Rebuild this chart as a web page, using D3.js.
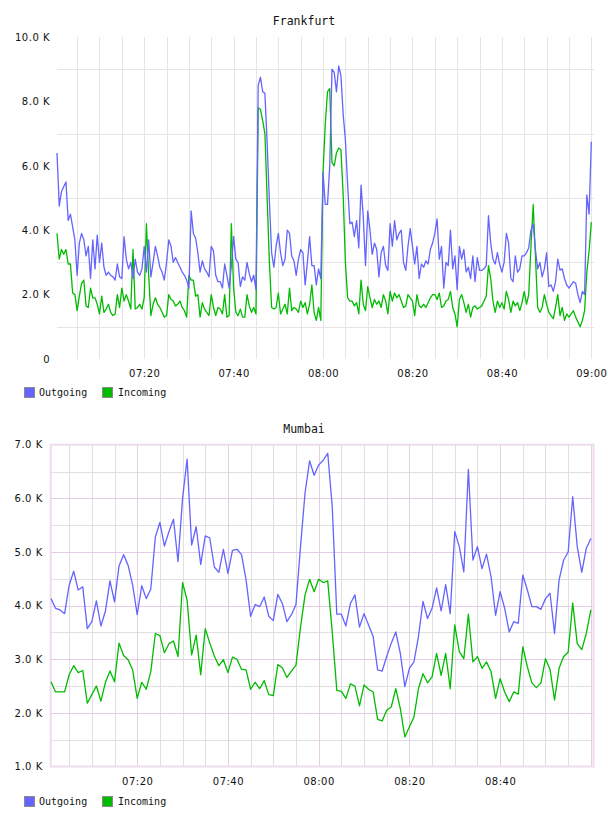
<!DOCTYPE html>
<html><head><meta charset="utf-8">
<script src="https://cdn.jsdelivr.net/npm/d3@7"></script>
<style>
body{margin:0;background:#fff;}
svg{display:block;}
</style></head><body>
<svg id="c" width="608" height="816"></svg>
<script>
// ---- Data (values in thousands) ----
const seriesNames = ["Outgoing", "Incoming"];

// Frankfurt: 30-second samples from 07:00:30 to 09:00:00
const frankfurtStart = "07:00:30";
const frankfurtStepSeconds = 30;
const frankfurtOutgoing = [
6.4,4.75,5.2,5.35,5.5,4.3,4.5,4.1,3.7,2.6,
3.6,3.9,3.7,3.2,3.5,2.5,3.7,2.8,3.85,3.0,
3.6,2.85,2.6,2.7,2.6,2.55,2.45,2.95,2.55,2.5,
3.8,3.1,2.8,3.0,2.5,3.1,2.7,2.6,2.8,3.5,
2.7,3.7,2.55,3.0,3.5,3.2,2.85,2.7,2.45,3.0,
3.7,3.5,3.0,3.15,3.0,2.85,2.7,2.6,2.45,2.2,
4.6,3.9,3.75,3.3,2.7,3.05,2.8,2.7,2.55,3.5,
3.35,2.6,2.4,2.4,2.2,2.95,2.6,2.2,2.9,3.8,
3.1,3.0,2.25,2.55,2.45,3.0,2.65,2.4,2.6,2.15,
8.5,8.75,8.3,8.25,6.7,4.9,3.3,2.85,3.5,3.9,
3.3,2.9,3.1,4.0,3.9,3.2,3.05,2.6,3.1,3.4,
3.3,2.3,3.0,3.8,2.9,2.9,2.3,2.8,2.5,5.8,
4.8,4.8,6.0,9.0,8.9,8.3,9.1,8.8,7.6,6.8,
5.4,4.2,4.25,3.8,4.3,3.45,5.4,4.4,2.9,4.6,
4.0,3.25,3.6,3.4,2.55,3.3,3.5,2.9,2.75,4.2,
3.5,4.3,3.7,3.9,4.0,3.0,2.75,3.5,4.05,3.5,
2.95,3.5,2.5,2.95,2.85,3.05,2.95,3.4,3.6,3.9,
4.35,3.1,3.5,2.2,3.0,2.9,4.0,2.8,3.2,2.15,
3.5,3.1,3.4,2.7,2.85,2.5,3.2,2.4,3.15,2.75,
2.75,2.8,2.9,4.45,3.6,3.1,2.95,3.3,2.95,2.7,
3.0,3.9,3.6,2.5,2.4,3.2,2.7,2.8,3.2,3.2,
3.3,3.45,4.0,4.2,3.4,2.8,3.0,2.55,2.8,3.3,
2.25,2.3,2.1,2.4,3.1,2.76,2.8,2.5,2.3,2.2,
2.3,2.4,2.35,2.0,1.75,2.1,2.0,5.1,4.5,6.75
];
const frankfurtIncoming = [
3.9,3.1,3.4,3.25,3.4,2.95,2.95,2.05,2.0,1.5,
1.95,2.35,2.45,1.65,1.6,2.2,1.9,1.9,1.7,1.4,
1.95,1.45,1.55,1.7,1.45,1.35,1.4,2.0,1.6,2.2,
1.8,2.0,1.8,1.55,3.4,1.55,1.6,1.7,1.55,1.9,
4.2,2.6,1.35,1.7,1.9,1.7,1.6,1.45,1.3,1.35,
2.0,1.85,1.8,1.65,1.7,1.8,1.6,1.5,1.3,2.6,
2.45,2.45,1.95,2.0,1.3,1.75,1.55,1.45,1.35,2.0,
1.6,1.35,1.6,1.55,1.4,2.0,1.3,1.35,4.2,2.2,
1.45,1.35,1.55,1.3,1.3,2.0,1.65,1.45,1.6,1.4,
7.8,7.75,7.4,7.0,5.0,3.0,1.6,1.55,1.6,2.05,
1.4,1.55,1.7,1.4,2.2,1.5,1.6,1.55,1.45,1.8,
1.6,1.75,1.4,1.7,2.3,1.45,1.2,1.6,1.2,5.8,
7.3,8.3,8.4,6.1,6.0,6.4,6.55,6.5,5.1,3.0,
1.9,1.8,1.8,1.65,1.75,1.4,2.45,1.7,1.5,2.25,
1.9,1.6,1.85,1.7,1.8,1.6,2.0,1.8,1.4,2.1,
1.8,2.05,1.9,2.0,1.8,1.6,1.65,2.0,1.9,1.8,
1.35,2.0,1.65,1.6,1.7,1.6,1.75,1.9,2.0,2.0,
1.85,2.05,1.6,1.65,1.8,1.85,2.1,1.6,1.4,1.0,
1.85,2.0,1.75,1.45,1.7,1.3,1.6,1.65,1.55,1.6,
1.65,1.8,1.95,2.9,2.5,1.8,1.45,1.8,1.6,1.75,
1.55,2.1,1.85,1.45,1.8,1.65,1.75,1.5,1.75,2.1,
1.7,2.0,3.5,4.8,3.2,1.6,1.45,1.6,2.0,1.7,
1.45,1.35,1.25,1.6,2.0,1.35,1.6,1.2,1.4,1.3,
1.4,1.5,1.3,1.15,1.0,1.2,1.5,2.7,3.35,4.25
];

// Mumbai: 1-minute samples from 07:01 to 09:00
const mumbaiStart = "07:01:00";
const mumbaiStepSeconds = 60;
const mumbaiOutgoing = [
4.13,3.95,3.92,3.85,4.38,4.64,4.29,4.35,3.57,3.7,
4.09,3.62,3.9,4.46,4.07,4.74,4.95,4.75,4.38,3.83,
4.37,4.13,4.31,5.28,5.55,5.11,5.38,5.61,4.82,6.0,
6.73,5.13,5.47,4.77,5.3,5.26,4.72,4.62,5.05,4.6,
5.03,5.05,4.95,4.48,3.8,4.02,3.98,4.16,3.8,3.72,
4.21,4.04,3.7,3.83,4.02,5.1,6.1,6.7,6.43,6.62,
6.71,6.84,5.84,3.84,3.84,3.62,4.04,4.2,3.6,3.85,
3.64,3.43,2.8,2.78,3.05,3.3,3.51,3.11,2.49,2.83,
2.95,3.42,4.08,3.76,3.95,4.33,3.9,4.39,3.85,5.38,
5.1,4.63,6.54,4.85,5.1,4.69,4.96,4.54,3.82,4.26,
3.95,3.51,3.7,3.67,4.57,4.29,3.98,3.98,3.93,4.13,
4.23,3.48,4.48,4.85,5.0,6.03,5.1,4.62,5.07,5.25
];
const mumbaiIncoming = [
2.58,2.39,2.39,2.39,2.71,2.88,2.75,2.79,2.18,2.34,
2.5,2.22,2.57,2.78,2.58,3.3,3.07,2.99,2.8,2.27,
2.57,2.44,2.77,3.48,3.44,3.12,3.29,3.34,3.05,4.43,
4.1,3.08,3.45,2.71,3.57,3.3,3.06,2.88,2.99,2.75,
3.04,3.0,2.81,2.8,2.44,2.57,2.45,2.6,2.34,2.32,
2.9,2.84,2.66,2.78,2.89,3.6,4.2,4.49,4.26,4.49,
4.43,4.46,3.5,2.42,2.4,2.27,2.54,2.5,2.13,2.52,
2.44,2.39,1.88,1.85,2.05,2.11,2.45,2.08,1.55,1.74,
1.92,2.45,2.73,2.56,2.67,3.11,2.7,3.11,2.45,3.64,
3.14,3.01,3.84,2.95,3.05,2.83,2.95,2.77,2.27,2.64,
2.39,2.21,2.39,2.35,3.23,2.86,2.56,2.47,2.56,3.01,
2.81,2.24,2.83,3.05,3.13,4.05,3.29,3.18,3.48,3.92
];

const frankfurtYTicks = [0, 2, 4, 6, 8, 10];
const frankfurtYGrid = [1, 3, 5, 7, 9];
const frankfurtXTicks = ["07:20", "07:40", "08:00", "08:20", "08:40", "09:00"];
const mumbaiYTicks = [1, 2, 3, 4, 5, 6, 7];
const mumbaiXTicks = ["07:20", "07:40", "08:00", "08:20", "08:40"];

// ---- Helpers ----
const parseT = s => { const [h, m, sec] = s.split(":").map(Number); return new Date(2020, 0, 1, h, m, sec || 0); };
const times = (start, step, n) => d3.range(n).map(i => new Date(parseT(start).getTime() + i * step * 1000));
const fmtK = d => d === 0 ? "0" : d3.format(".1f")(d) + " K";
const colors = { Outgoing: "#6464ff", Incoming: "#00bb00" };

const svg = d3.select("#c");
const FONT_MONO = "'DejaVu Sans Mono', monospace";
const FONT_SANS = "'DejaVu Sans', sans-serif";

function drawLegend(y) {
  const g = svg.append("g").attr("transform", `translate(0,${y})`);
  const pos = [{ x: 24, tx: 39 }, { x: 102, tx: 118 }];
  seriesNames.forEach((name, i) => {
    g.append("rect").attr("x", pos[i].x + 0.5).attr("y", 0.5).attr("width", 10).attr("height", 10)
      .attr("fill", colors[name]).attr("stroke", "#8a8a8a").attr("stroke-width", 1);
    g.append("text").attr("x", pos[i].tx).attr("y", 9).attr("font-family", FONT_MONO)
      .attr("font-size", "10px").attr("fill", "#111").text(name);
  });
}

function drawTitle(text, y) {
  svg.append("text").attr("x", 304).attr("y", y).attr("text-anchor", "middle")
    .attr("font-family", FONT_MONO).attr("font-size", "11.5px").attr("fill", "#111").text(text);
}

function styleAxis(g) {
  g.select(".domain").remove();
  g.selectAll(".tick line").remove();
  g.selectAll("text").attr("font-family", FONT_SANS).attr("font-size", "10px")
    .attr("letter-spacing", "0.5px").attr("fill", "#111");
}

function drawLines(g, x, y, t, out, inc) {
  const line = d3.line().x((d, i) => x(t[i])).y(d => y(d));
  g.append("path").datum(inc).attr("d", line).attr("fill", "none")
    .attr("stroke", colors.Incoming).attr("stroke-width", 1.3).attr("stroke-linejoin", "round");
  g.append("path").datum(out).attr("d", line).attr("fill", "none")
    .attr("stroke", colors.Outgoing).attr("stroke-width", 1.3).attr("stroke-linejoin", "round");
}

// ---- Frankfurt ----
(function () {
  const L = 57, R = 594, T = 37, B = 359;
  const t = times(frankfurtStart, frankfurtStepSeconds, frankfurtOutgoing.length);
  const x = d3.scaleTime().domain([parseT("07:00:30"), parseT("09:00:36")]).range([L, R]);
  const y = d3.scaleLinear().domain([0, 10]).range([B, T]);
  drawTitle("Frankfurt", 25);
  const grid = svg.append("g");
  const vTimes = d3.timeMinute.every(5).range(parseT("07:05:00"), parseT("09:00:01"));
  grid.selectAll(".v").data(vTimes).enter().append("line")
    .attr("x1", d => Math.round(x(d)) + 0.5).attr("x2", d => Math.round(x(d)) + 0.5)
    .attr("y1", T).attr("y2", B).attr("stroke", "#e5e5e5").attr("stroke-width", 1);
  grid.selectAll(".h").data(frankfurtYGrid).enter().append("line")
    .attr("x1", L).attr("x2", R).attr("y1", d => Math.round(y(d)) + 0.5).attr("y2", d => Math.round(y(d)) + 0.5)
    .attr("stroke", "#e5e5e5").attr("stroke-width", 1);
  const ya = svg.append("g").attr("transform", `translate(${L},0)`)
    .call(d3.axisLeft(y).tickValues(frankfurtYTicks).tickFormat(fmtK).tickSize(0).tickPadding(7));
  styleAxis(ya);
  const xa = svg.append("g").attr("transform", `translate(0,${B})`)
    .call(d3.axisBottom(x).tickValues(frankfurtXTicks.map(parseT)).tickFormat(d3.timeFormat("%H:%M")).tickSize(0));
  styleAxis(xa);
  xa.selectAll("text").attr("y", 14).attr("dy", "0.35em");
  drawLines(svg.append("g"), x, y, t, frankfurtOutgoing, frankfurtIncoming);
  drawLegend(387);
})();

// ---- Mumbai ----
(function () {
  const L = 50.7, R = 593.5, T = 444.7, B = 766.5;
  const t = times(mumbaiStart, mumbaiStepSeconds, mumbaiOutgoing.length);
  const x = d3.scaleTime().domain([parseT("07:00:56"), parseT("09:00:35")]).range([L, R]);
  const y = d3.scaleLinear().domain([1, 7]).range([B, T]);
  drawTitle("Mumbai", 433);
  const grid = svg.append("g");
  const vTimes = d3.timeMinute.every(5).range(parseT("07:05:00"), parseT("09:00:01"));
  const isMajorT = d => d.getMinutes() % 20 === 0;
  grid.selectAll(".vm").data(vTimes.filter(d => !isMajorT(d))).enter().append("line")
    .attr("x1", d => Math.round(x(d)) + 0.5).attr("x2", d => Math.round(x(d)) + 0.5)
    .attr("y1", T).attr("y2", B).attr("stroke", "#e0e0e0");
  const hMinor = d3.range(1.5, 7, 1);
  grid.selectAll(".hm").data(hMinor).enter().append("line")
    .attr("x1", L).attr("x2", R).attr("y1", d => Math.round(y(d)) + 0.5).attr("y2", d => Math.round(y(d)) + 0.5)
    .attr("stroke", "#e0e0e0");
  grid.selectAll(".vM").data(vTimes.filter(isMajorT)).enter().append("line")
    .attr("x1", d => Math.round(x(d)) + 0.5).attr("x2", d => Math.round(x(d)) + 0.5)
    .attr("y1", T).attr("y2", B).attr("stroke", "#e4cce4");
  grid.selectAll(".hM").data(mumbaiYTicks.slice(1, -1)).enter().append("line")
    .attr("x1", L).attr("x2", R).attr("y1", d => Math.round(y(d)) + 0.5).attr("y2", d => Math.round(y(d)) + 0.5)
    .attr("stroke", "#e4cce4");
  grid.append("rect").attr("x", L).attr("y", T).attr("width", R - L).attr("height", B - T)
    .attr("fill", "none").attr("stroke", "#eedcee").attr("stroke-width", 2);
  const ya = svg.append("g").attr("transform", `translate(${L},0)`)
    .call(d3.axisLeft(y).tickValues(mumbaiYTicks).tickFormat(fmtK).tickSize(0).tickPadding(8));
  styleAxis(ya);
  const xa = svg.append("g").attr("transform", `translate(0,${B})`)
    .call(d3.axisBottom(x).tickValues(mumbaiXTicks.map(parseT)).tickFormat(d3.timeFormat("%H:%M")).tickSize(0));
  styleAxis(xa);
  xa.selectAll("text").attr("y", 15).attr("dy", "0.35em");
  drawLines(svg.append("g"), x, y, t, mumbaiOutgoing, mumbaiIncoming);
  drawLegend(796);
})();
</script>
</body></html>
